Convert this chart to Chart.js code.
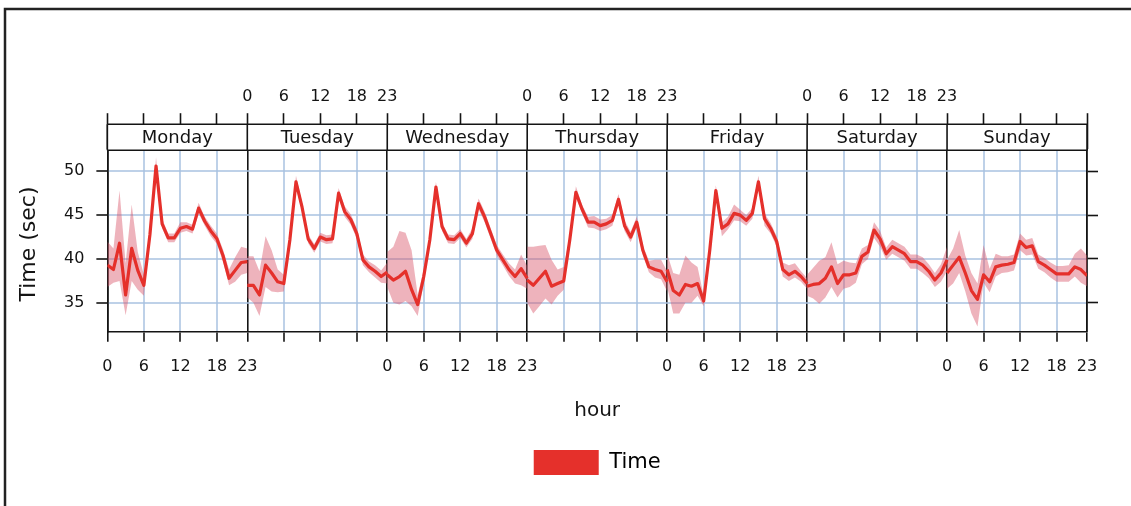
<!DOCTYPE html>
<html><head><meta charset="utf-8">
<script src="https://cdn.jsdelivr.net/npm/chart.js@4.4.1/dist/chart.umd.min.js"></script>
<style>html,body{margin:0;padding:0;background:#fff}#wrap{width:1131px;height:506px;position:relative}</style>
</head><body><div id="wrap"><canvas id="c"></canvas></div>
<script>
const days = ['Monday','Tuesday','Wednesday','Thursday','Friday','Saturday','Sunday'];
const hourTicks = [0, 6, 12, 18, 23];
const yTickVals = [35, 40, 45, 50];

const monMean = [39.3,38.8,41.8,35.9,41.2,38.7,37.0,42.8,50.6,44.0,42.4,42.4,43.5,43.7,43.4,45.8,44.3,43.2,42.3,40.4,37.8,38.7,39.6,39.7];
const monLo   = [36.8,37.3,37.5,33.6,37.5,36.5,35.8,42.2,49.8,43.5,41.9,41.9,43.0,43.2,42.9,45.2,43.8,42.6,41.7,39.7,37.0,37.4,38.2,38.4];
const monHi   = [42.0,41.2,47.8,39.5,46.2,40.8,38.2,43.4,51.6,44.6,42.9,42.9,44.2,44.2,43.9,46.4,44.8,43.8,42.9,41.1,38.8,40.2,41.4,41.2];

const tueMean = [37.0,37.0,35.9,39.3,38.4,37.4,37.2,42.2,48.8,45.9,42.3,41.2,42.5,42.2,42.3,47.5,45.4,44.5,42.9,39.9,39.1,38.6,38.0,38.5];
const tueLo   = [35.6,35.0,33.5,36.8,36.3,36.2,36.3,41.7,48.2,45.4,41.8,40.7,42.0,41.7,41.8,46.9,44.8,43.9,42.3,39.3,38.5,37.9,37.3,37.2];
const tueHi   = [40.3,40.3,38.6,42.6,41.0,38.8,38.2,42.7,49.5,46.4,42.8,41.7,43.0,42.7,42.8,48.1,46.0,45.1,43.5,40.5,39.7,39.3,38.7,39.6];

const wedMean = [38.2,37.6,38.0,38.6,36.5,34.8,38.0,42.2,48.2,43.7,42.3,42.2,42.9,41.8,42.9,46.3,44.8,42.9,41.0,39.9,38.8,38.0,38.9,37.8];
const wedLo   = [36.8,35.0,34.8,35.2,34.6,33.5,37.2,41.7,47.6,43.2,41.8,41.7,42.4,41.3,42.3,45.7,44.2,42.3,40.4,39.3,38.1,37.2,37.0,36.6];
const wedHi   = [40.8,41.4,43.2,43.0,41.0,35.9,38.8,42.7,48.8,44.2,42.8,42.7,43.4,42.3,43.5,46.9,45.4,43.5,41.6,40.5,39.5,38.8,40.5,39.2];

const thuMean = [37.6,37.0,37.8,38.6,36.9,37.2,37.5,42.2,47.6,45.7,44.2,44.2,43.8,44.0,44.4,46.8,43.8,42.5,44.2,41.0,39.1,38.8,38.6,37.4];
const thuLo   = [35.0,33.8,34.6,35.5,34.8,35.8,36.5,41.7,47.0,45.2,43.6,43.5,43.2,43.4,43.8,46.2,43.2,41.9,43.6,40.4,38.5,37.9,37.7,36.3];
const thuHi   = [41.4,41.4,41.5,41.6,39.9,38.8,39.1,42.7,48.3,46.2,44.8,44.9,44.5,44.6,45.0,47.4,44.4,43.1,44.8,41.6,39.8,39.9,39.9,38.6];

const friMean = [38.8,36.4,35.9,37.1,36.9,37.2,35.2,41.0,47.8,43.5,44.0,45.2,45.0,44.4,45.2,48.8,44.6,43.5,42.0,38.8,38.2,38.6,38.0,37.2];
const friLo   = [36.8,33.8,33.8,35.0,35.0,35.8,34.6,40.4,47.2,42.6,43.4,44.4,44.3,43.8,44.6,48.2,43.8,42.9,41.4,38.0,37.5,37.9,37.4,36.6];
const friHi   = [40.6,38.4,38.2,40.4,39.6,39.1,35.8,41.6,48.4,44.2,44.8,46.2,45.6,45.0,45.8,49.5,45.2,44.1,42.6,39.6,39.3,39.5,38.6,37.8];

const satMean = [36.9,37.1,37.2,37.8,39.1,37.2,38.2,38.2,38.4,40.3,40.8,43.3,42.3,40.6,41.4,41.0,40.6,39.7,39.7,39.3,38.6,37.6,38.4,39.9];
const satLo   = [35.8,35.5,34.9,35.6,36.8,35.6,36.6,36.8,37.3,39.4,40.0,42.4,41.4,39.9,40.6,40.2,39.8,38.9,38.9,38.4,37.8,36.8,37.4,38.6];
const satHi   = [38.2,39.0,39.8,40.2,41.9,39.4,39.8,39.6,39.5,41.2,41.6,44.2,43.2,41.3,42.2,41.8,41.4,40.5,40.5,40.2,39.4,38.4,39.4,41.4];

const sunMean = [38.4,39.3,40.2,38.4,36.4,35.4,38.2,37.4,39.1,39.3,39.4,39.6,42.0,41.3,41.5,39.7,39.3,38.8,38.3,38.3,38.3,39.1,38.8,38.1];
const sunLo   = [36.6,37.2,38.4,36.3,33.8,32.3,37.3,36.2,38.0,38.4,38.5,38.7,41.0,40.4,40.5,38.9,38.5,37.9,37.4,37.4,37.4,38.0,37.3,36.9];
const sunHi   = [39.9,41.2,43.3,40.4,38.4,37.2,41.6,38.9,40.6,40.3,40.3,40.5,42.9,42.2,42.4,40.5,40.1,39.6,39.2,39.2,39.3,40.6,41.2,40.4];

const means = [monMean, tueMean, wedMean, thuMean, friMean, satMean, sunMean];
const lows  = [monLo, tueLo, wedLo, thuLo, friLo, satLo, sunLo];
const highs = [monHi, tueHi, wedHi, thuHi, friHi, satHi, sunHi];

const SPAN = 23;
const F = '"DejaVu Sans", "Liberation Sans", sans-serif';
const LINE = '#e5302b';
const BAND = 'rgba(218, 86, 106, 0.45)';
const GRID = 'rgba(168, 194, 224, 0.75)';
const INK = '#141414';

const datasets = [];
days.forEach((d, i) => {
  const pts = arr => arr.map((v, h) => ({x: i * SPAN + h, y: v}));
  datasets.push({label: d + ' lower', data: pts(lows[i]), borderWidth: 0, pointRadius: 0, fill: false, order: 2});
  datasets.push({label: d + ' upper', data: pts(highs[i]), borderWidth: 0, pointRadius: 0, fill: '-1', backgroundColor: BAND, order: 2});
  datasets.push({label: 'Time', data: pts(means[i]), borderColor: LINE, borderWidth: 3.2, pointRadius: 0, fill: false, order: 1, borderJoinStyle: 'round'});
});

const xTickVals = [];
const bottomLabels = {}, topLabels = {};
days.forEach((d, i) => hourTicks.forEach(h => {
  const v = i * SPAN + h;
  if (!xTickVals.includes(v)) xTickVals.push(v);
  (i % 2 === 0 ? bottomLabels : topLabels)[v] = String(h);
}));
const isBoundary = v => v % SPAN === 0;
const xMax = days.length * SPAN;

const deco = {
  id: 'deco',
  afterDraw(chart) {
    const {ctx, chartArea: ca, scales} = chart;
    const xs = scales.x;
    const top = ca.top - 26, bot = ca.top;
    ctx.save();
    ctx.fillStyle = '#fff';
    ctx.fillRect(ca.left, top, ca.right - ca.left, bot - top);
    ctx.strokeStyle = INK; ctx.lineWidth = 1.6;
    ctx.beginPath();
    ctx.moveTo(ca.left, top); ctx.lineTo(ca.right, top);
    ctx.moveTo(ca.left, bot); ctx.lineTo(ca.right, bot);
    for (let i = 0; i <= days.length; i++) {
      const px = xs.getPixelForValue(i * SPAN);
      ctx.moveTo(px, top); ctx.lineTo(px, bot);
    }
    ctx.stroke();
    ctx.font = '18px ' + F; ctx.textAlign = 'center'; ctx.textBaseline = 'middle'; ctx.fillStyle = INK;
    days.forEach((d, i) => ctx.fillText(d, xs.getPixelForValue(i * SPAN + SPAN / 2), (top + bot) / 2 + 1));
    ctx.save();
    ctx.translate(29, (ca.top + ca.bottom) / 2 + 3);
    ctx.rotate(-Math.PI / 2);
    ctx.font = '22px ' + F;
    ctx.fillText('Time (sec)', 0, 0);
    ctx.restore();
    ctx.lineWidth = 2.5; ctx.strokeStyle = '#222';
    ctx.beginPath(); ctx.moveTo(5, chart.height); ctx.lineTo(5, 9); ctx.lineTo(chart.width, 9); ctx.stroke();
    ctx.restore();
  }
};

new Chart(document.getElementById('c'), {
  type: 'line',
  data: {datasets},
  plugins: [deco],
  options: {
    responsive: true, maintainAspectRatio: false, animation: false, devicePixelRatio: 1,
    layout: {padding: {left: 52, right: 33, top: 80, bottom: 21}},
    plugins: {
      tooltip: {enabled: false},
      legend: {
        position: 'bottom', fullSize: false, onClick: null,
        labels: {
          boxWidth: 65, boxHeight: 25, padding: 27, color: INK, font: {size: 21, family: F},
          generateLabels: () => [{text: 'Time', fillStyle: LINE, strokeStyle: LINE, lineWidth: 0, hidden: false, datasetIndex: 2}]
        }
      }
    },
    scales: {
      x: {
        type: 'linear', position: 'bottom', min: 0, max: xMax,
        afterBuildTicks: s => { s.ticks = xTickVals.map(v => ({value: v})); },
        ticks: {autoSkip: false, maxRotation: 0, padding: 15, color: INK, font: {size: 16, family: F},
                callback: v => bottomLabels[v] !== undefined ? bottomLabels[v] : ''},
        grid: {color: c => (c.tick && isBoundary(c.tick.value)) ? INK : GRID,
               lineWidth: c => (c.tick && isBoundary(c.tick.value)) ? 1.6 : 2,
               tickLength: 10, tickColor: INK, tickWidth: 1.6},
        border: {color: INK, width: 1.6},
        title: {display: true, text: 'hour', color: INK, font: {size: 20, family: F}, padding: {top: 8, bottom: 0}}
      },
      x2: {
        type: 'linear', position: 'top', min: 0, max: xMax,
        afterBuildTicks: s => { s.ticks = xTickVals.map(v => ({value: v})); },
        ticks: {autoSkip: false, maxRotation: 0, padding: 7, color: INK, font: {size: 16, family: F},
                callback: v => topLabels[v] !== undefined ? topLabels[v] : ''},
        grid: {drawOnChartArea: false, tickLength: 37, tickColor: INK, tickWidth: 1.6},
        border: {color: INK, width: 1.6}
      },
      y: {
        type: 'linear', position: 'left', min: 31.7, max: 52.4,
        afterBuildTicks: s => { s.ticks = yTickVals.map(v => ({value: v})); },
        ticks: {padding: 12, color: INK, font: {size: 16, family: F}},
        grid: {color: GRID, lineWidth: 2, tickLength: 11, tickColor: INK, tickWidth: 1.6},
        border: {color: INK, width: 1.6}
      },
      y2: {
        type: 'linear', position: 'right', min: 31.7, max: 52.4,
        afterBuildTicks: s => { s.ticks = yTickVals.map(v => ({value: v})); },
        ticks: {display: false},
        grid: {drawOnChartArea: false, tickLength: 11, tickColor: INK, tickWidth: 1.6},
        border: {color: INK, width: 1.6}
      }
    }
  }
});
</script>
</body></html>
